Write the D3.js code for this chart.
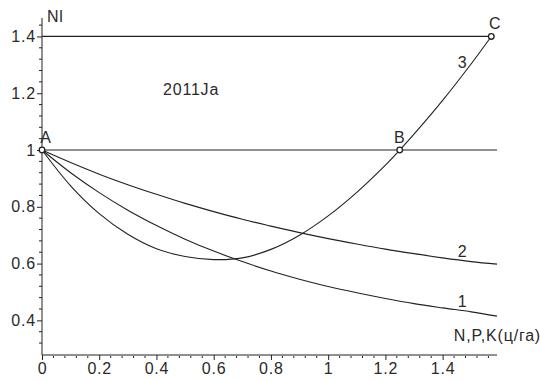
<!DOCTYPE html>
<html>
<head>
<meta charset="utf-8">
<script src="https://cdn.jsdelivr.net/npm/d3@7"></script>
<style>
body{margin:0;background:#fff;}
text{font-family:"Liberation Sans",Arial,sans-serif;fill:#2a2a2a;letter-spacing:0.8px;}
</style>
</head>
<body>
<svg id="chart" width="541" height="381"></svg>
<script>
// values
const xs = [0,0.1,0.2,0.3,0.4,0.5,0.6,0.7,0.8,0.9,1.0,1.1,1.2,1.3,1.4,1.5,1.59];
const curve1 = [1,0.920,0.850,0.788,0.734,0.686,0.644,0.607,0.574,0.545,0.519,0.497,0.477,0.459,0.444,0.430,0.415];
const curve2 = [1,0.956,0.915,0.878,0.844,0.812,0.783,0.756,0.732,0.709,0.688,0.669,0.651,0.635,0.620,0.607,0.598];
const xs3 = [0,0.1,0.2,0.3,0.4,0.5,0.6,0.7,0.8,0.9,1.0,1.1,1.2,1.25,1.3,1.4,1.5,1.57];
const curve3 = [1,0.874,0.776,0.703,0.652,0.625,0.614,0.620,0.650,0.700,0.768,0.851,0.947,1.0,1.056,1.175,1.304,1.4];
const hlines = [{y:1.0,x2:1.59},{y:1.4,x2:1.57}];
const points = [{name:"A",x:0,y:1,dx:4},{name:"B",x:1.25,y:1,dx:0},{name:"C",x:1.57,y:1.4,dx:4}];
const curveLabels = [{t:"1",x:1.47,y:0.447},{t:"2",x:1.47,y:0.623},{t:"3",x:1.47,y:1.29}];
const xTicks = [0,0.2,0.4,0.6,0.8,1,1.2,1.4];
const yTicks = [0.4,0.6,0.8,1,1.2,1.4];

const svg=d3.select("#chart");
const x=d3.scaleLinear().domain([0,1.59]).range([42,497]);
const y=d3.scaleLinear().domain([0.278,1.465]).range([355,18]);
const fmt=d=>String(+d.toFixed(1));

// axes
const gx=svg.append("g").attr("transform","translate(0,"+y(0.278)+")")
  .call(d3.axisBottom(x).tickValues(xTicks).tickSize(5).tickFormat(fmt));
gx.select(".domain").attr("d","M"+x(0)+",0H"+x(1.59)).attr("stroke","#222");
gx.selectAll(".tick line").attr("stroke","#222");
gx.selectAll(".tick text").attr("y",8).style("font-size","16px").style("font-family","Liberation Sans, Arial, sans-serif").attr("fill","#2a2a2a");
const xMinor=d3.range(0.04,1.59,0.04).filter(v=>Math.abs(v/0.2-Math.round(v/0.2))>0.01);
gx.selectAll(".minor").data(xMinor).join("line").attr("class","minor")
  .attr("x1",d=>x(d)).attr("x2",d=>x(d)).attr("y1",1).attr("y2",3).attr("stroke","#222");

const gy=svg.append("g").attr("transform","translate("+x(0)+",0)")
  .call(d3.axisLeft(y).tickValues(yTicks).tickSize(5).tickFormat(fmt));
gy.select(".domain").attr("d","M0,"+y(0.278)+"V"+y(1.465)).attr("stroke","#222");
gy.selectAll(".tick line").attr("stroke","#222");
gy.selectAll(".tick text").attr("x",-6).style("font-size","16px").style("font-family","Liberation Sans, Arial, sans-serif").attr("fill","#2a2a2a");
const yMinor=d3.range(0.32,1.465,0.04).filter(v=>Math.abs(v/0.2-Math.round(v/0.2))>0.01);
gy.selectAll(".minor").data(yMinor).join("line").attr("class","minor")
  .attr("y1",d=>y(d)).attr("y2",d=>y(d)).attr("x1",-3).attr("x2",0).attr("stroke","#222");

// horizontal reference lines
svg.selectAll(".hl").data(hlines).join("line").attr("class","hl")
  .attr("x1",x(0)).attr("x2",d=>x(d.x2)).attr("y1",d=>y(d.y)).attr("y2",d=>y(d.y))
  .attr("stroke","#222").attr("stroke-width",1.2);

// curves
const line=d3.line().x(d=>x(d[0])).y(d=>y(d[1])).curve(d3.curveCatmullRom);
[[xs,curve1],[xs,curve2],[xs3,curve3]].forEach(([xv,yv])=>{
  svg.append("path").datum(xv.map((v,i)=>[v,yv[i]])).attr("d",line)
    .attr("fill","none").attr("stroke","#222").attr("stroke-width",1.1);
});

// marked points
svg.selectAll(".pt").data(points).join("circle").attr("class","pt")
  .attr("cx",d=>x(d.x)).attr("cy",d=>y(d.y)).attr("r",2.8)
  .attr("fill","#fff").attr("stroke","#222").attr("stroke-width",1.3);
svg.selectAll(".ptl").data(points).join("text").attr("class","ptl")
  .attr("x",d=>x(d.x)+d.dx).attr("y",d=>y(d.y)-7)
  .attr("text-anchor","middle").style("font-size","16px").text(d=>d.name);

svg.selectAll(".cl").data(curveLabels).join("text").attr("class","cl")
  .attr("x",d=>x(d.x)).attr("y",d=>y(d.y)).attr("text-anchor","middle")
  .style("font-size","16px").text(d=>d.t);

// titles
svg.append("text").attr("x",47).attr("y",22).style("font-size","16px").text("Nl");
svg.append("text").attr("x",541).attr("y",341).attr("text-anchor","end").style("font-size","16px").text("N,P,K(ц/га)");
svg.append("text").attr("x",163).attr("y",95).style("font-size","16px").text("2011Ja");
</script>
</body>
</html>
